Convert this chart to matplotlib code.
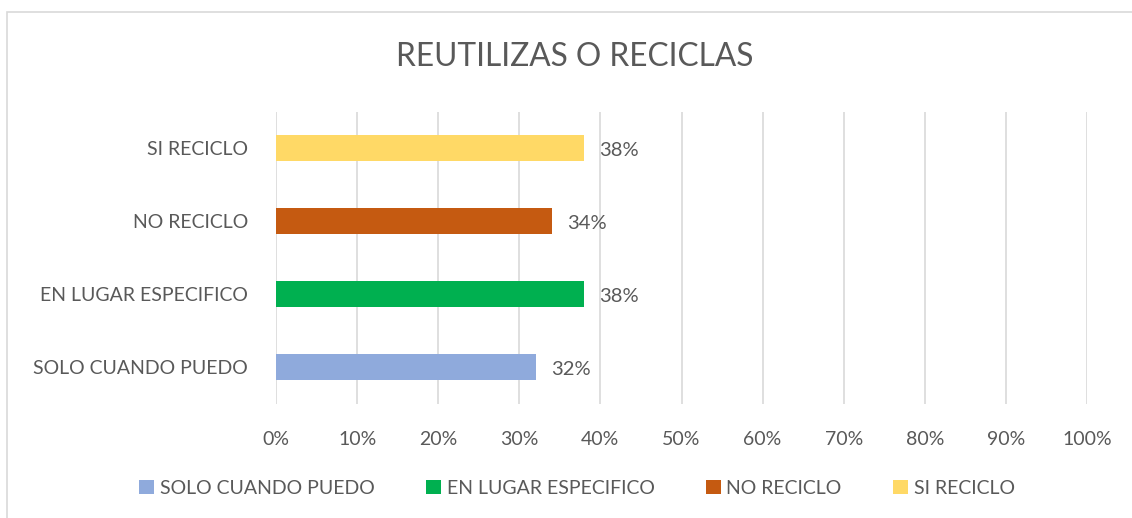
import matplotlib
matplotlib.use("Agg")
import matplotlib.pyplot as plt
from matplotlib.patches import Patch, Rectangle
from matplotlib.ticker import MultipleLocator, PercentFormatter

plt.rcParams['font.family'] = ['Lato', 'DejaVu Sans']

# data, bottom to top
categories = ['SOLO CUANDO PUEDO', 'EN LUGAR ESPECIFICO', 'NO RECICLO', 'SI RECICLO']
values = [0.32, 0.38, 0.34, 0.38]
colors = ['#8FAADC', '#00B050', '#C55A11', '#FFD966']
title = 'REUTILIZAS O RECICLAS'

text_color = '#595959'
grid_color = '#D9D9D9'

fig = plt.figure(figsize=(11.32, 5.18), dpi=100)
fig.patch.set_facecolor('white')

# chart frame (only top and left edges visible in the crop)
fig.add_artist(Rectangle((7 / 1132, -0.1), 1.2, 1 - 12 / 518 + 0.1,
                         transform=fig.transFigure, fill=False,
                         edgecolor=grid_color, linewidth=1.2))

ax = fig.add_axes([276 / 1132, 1 - 403.5 / 518, 811 / 1132, 292 / 518])
ypos = list(range(len(categories)))
ax.barh(ypos, values, height=0.36, color=colors, zorder=2)

for y, v in zip(ypos, values):
    ax.annotate(f'{v:.0%}', (v, y), xytext=(11, -2), textcoords='offset points',
                va='center', ha='left', fontsize=14.5, color=text_color)

ax.set_xlim(0, 1)
ax.set_ylim(-0.5, len(categories) - 0.5)
ax.xaxis.set_major_locator(MultipleLocator(0.1))
ax.xaxis.set_major_formatter(PercentFormatter(1.0, decimals=0))
ax.set_yticks(ypos)
ax.set_yticklabels(categories)
ax.grid(True, axis='x', color=grid_color, linewidth=1.2, zorder=0)
ax.grid(False, axis='y')
for s in ax.spines.values():
    s.set_visible(False)
ax.tick_params(axis='both', length=0, labelsize=14, colors=text_color)
ax.tick_params(axis='x', pad=20)
ax.tick_params(axis='y', pad=20)

fig.text(575 / 1132, 1 - 57 / 518, title, ha='center', va='center',
         fontsize=22.8, color=text_color)

handles = [Patch(facecolor=c, edgecolor='none') for c in colors]
fig.legend(handles, categories, loc='center', bbox_to_anchor=(577 / 1132, 1 - 488 / 518),
           ncol=4, frameon=False, fontsize=14, labelcolor=text_color,
           handlelength=0.75, handleheight=0.75, handletextpad=0.3, columnspacing=2.65)

fig.savefig('out.png', dpi=100)
